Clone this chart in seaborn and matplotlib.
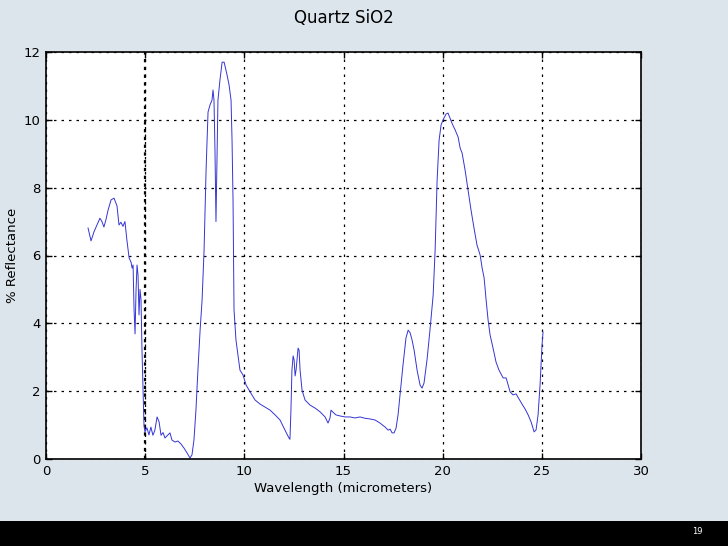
import numpy as np
import pandas as pd
import matplotlib
matplotlib.use("Agg")
import matplotlib.pyplot as plt
import seaborn as sns

# spectrum
wavelength = [2.12, 2.27, 2.42, 2.57, 2.72, 2.82, 2.92, 3.02, 3.13, 3.28, 3.43, 3.58, 3.68, 3.78,
              3.88, 3.98, 4.08, 4.19, 4.29, 4.34, 4.39, 4.44, 4.49, 4.54, 4.59, 4.64, 4.69, 4.74,
              4.79, 4.84, 4.94, 4.99, 5.09, 5.19, 5.29, 5.39, 5.49, 5.60, 5.70, 5.80, 5.90, 6.00,
              6.10, 6.25, 6.35, 6.50, 6.65, 6.81, 6.96, 7.11, 7.26, 7.36, 7.46, 7.56, 7.66, 7.77,
              7.87, 7.97, 8.07, 8.17, 8.27, 8.37, 8.42, 8.47, 8.52, 8.57, 8.62, 8.67, 8.77, 8.88,
              8.98, 9.13, 9.23, 9.33, 9.38, 9.43, 9.48, 9.58, 9.68, 9.78, 9.93, 10.09, 10.29, 10.54,
              10.79, 11.04, 11.30, 11.55, 11.80, 12.00, 12.15, 12.25, 12.30, 12.35, 12.40, 12.46,
              12.51, 12.56, 12.61, 12.71, 12.76, 12.81, 12.91, 13.06, 13.31, 13.57, 13.82, 14.07,
              14.22, 14.32, 14.37, 14.47, 14.62, 14.82, 15.08, 15.33, 15.58, 15.83, 16.09, 16.34,
              16.59, 16.84, 17.10, 17.25, 17.35, 17.45, 17.55, 17.65, 17.75, 17.85, 18.00, 18.15,
              18.26, 18.36, 18.46, 18.56, 18.71, 18.86, 18.96, 19.06, 19.21, 19.36, 19.52, 19.62,
              19.72, 19.82, 19.92, 20.02, 20.17, 20.27, 20.37, 20.47, 20.63, 20.78, 20.88, 20.98,
              21.13, 21.28, 21.43, 21.58, 21.73, 21.89, 21.99, 22.09, 22.19, 22.29, 22.39, 22.54,
              22.69, 22.84, 23.05, 23.20, 23.30, 23.40, 23.55, 23.70, 23.85, 24.00, 24.16, 24.31,
              24.46, 24.61, 24.71, 24.81, 24.91, 25.01, 25.06]
reflectance = [6.81, 6.43, 6.70, 6.90, 7.10, 7.00, 6.84, 7.05, 7.34, 7.64, 7.69, 7.46, 6.90, 6.98,
               6.86, 7.00, 6.45, 5.93, 5.80, 5.63, 5.72, 4.39, 3.69, 4.98, 5.72, 5.42, 4.25, 5.00,
               4.70, 3.20, 1.00, 0.80, 0.92, 0.71, 0.94, 0.70, 0.85, 1.24, 1.10, 0.70, 0.78, 0.62,
               0.68, 0.77, 0.56, 0.50, 0.53, 0.44, 0.32, 0.18, 0.03, 0.12, 0.56, 1.44, 2.62, 3.80,
               4.69, 6.16, 8.50, 10.23, 10.44, 10.58, 10.88, 10.58, 9.10, 7.00, 8.80, 10.58, 11.17, 11.70,
               11.70, 11.32, 11.03, 10.58, 9.40, 7.64, 4.39, 3.50, 3.07, 2.62, 2.48, 2.18, 1.98, 1.74,
               1.62, 1.53, 1.44, 1.30, 1.15, 0.91, 0.74, 0.62, 0.58, 1.44, 2.62, 3.04,
               2.92, 2.45, 2.63, 3.27, 3.21, 2.62, 2.03, 1.74, 1.59, 1.50, 1.39, 1.24,
               1.06, 1.21, 1.44, 1.38, 1.30, 1.27, 1.24, 1.24, 1.21, 1.24, 1.20, 1.18,
               1.15, 1.06, 0.94, 0.85, 0.88, 0.77, 0.77, 0.91, 1.30, 1.89, 2.77, 3.57,
               3.80, 3.72, 3.50, 3.21, 2.62, 2.18, 2.09, 2.24, 2.92, 3.80, 4.83, 6.16,
               8.22, 9.40, 9.85, 10.00, 10.17, 10.20, 10.05, 9.90, 9.70, 9.49, 9.17, 9.02,
               8.52, 7.93, 7.34, 6.81, 6.31, 6.01, 5.63, 5.34, 4.69, 4.10, 3.66, 3.27,
               2.86, 2.62, 2.39, 2.39, 2.18, 1.98, 1.89, 1.92, 1.77, 1.62, 1.47, 1.30,
               1.09, 0.80, 0.86, 1.30, 2.18, 3.36, 3.74]

x_ticks = [0, 5, 10, 15, 20, 25, 30]
y_ticks = [0, 2, 4, 6, 8, 10, 12]

df = pd.DataFrame({"Wavelength": wavelength, "Reflectance": reflectance})

plt.rcParams["font.family"] = "DejaVu Sans"
fig = plt.figure(figsize=(7.28, 5.46), dpi=100, facecolor="#dde5ec")
ax = fig.add_axes([46 / 728, 1 - 459 / 546, 595 / 728, 407 / 546])
ax.set_facecolor("white")

sns.lineplot(data=df, x="Wavelength", y="Reflectance", ax=ax,
             color="#3434d4", linewidth=0.7, sort=False, estimator=None)

ax.set_xlim(0, 30)
ax.set_ylim(0, 12)
ax.set_xticks(x_ticks)
ax.set_yticks(y_ticks)
ax.grid(True, color="black", linestyle=(0, (2, 4)), linewidth=0.9)
ax.axvline(5, color="black", linestyle=(0, (1.5, 2)), linewidth=1.6, zorder=1)
ax.tick_params(direction="in", length=4, width=1, labelsize=9.5, colors="black",
               top=True, right=True, pad=4)
for s in ax.spines.values():
    s.set_linewidth(1.2)
    s.set_color("black")

ax.set_xlabel("Wavelength (micrometers)", fontsize=9.5)
ax.set_ylabel("% Reflectance", fontsize=9.5)
ax.xaxis.set_label_coords(0.5, -23 / 407)
ax.yaxis.set_label_coords(-27 / 595, 0.5)
ax.set_title("Quartz SiO2", fontsize=12, pad=21)

# black footer band with page number
fig.patches.append(plt.Rectangle((0, 0), 1, 25 / 546, transform=fig.transFigure,
                                 facecolor="black", edgecolor="none", zorder=0))
fig.text(697 / 728, 1 - 532 / 546, "19", color="white", fontsize=6, ha="center", va="center")

fig.savefig("out.png", dpi=100, facecolor=fig.get_facecolor())
